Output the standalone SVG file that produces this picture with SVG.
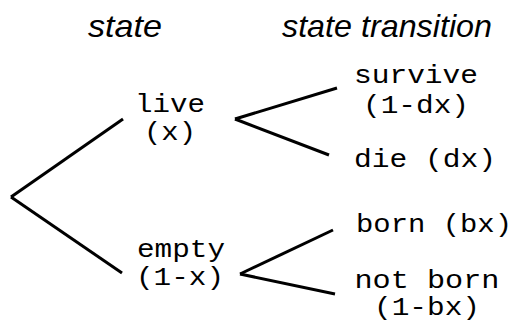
<svg xmlns="http://www.w3.org/2000/svg" width="515" height="323" viewBox="0 0 515 323">
<style>
.hdr{font-family:"Liberation Sans",Arial,sans-serif;font-style:italic;font-size:32px;fill:#000}
.lbl{font-family:"Liberation Mono","Courier New",monospace;font-size:25px;fill:#000}
.m{text-anchor:middle}
.edge{stroke:#000;stroke-width:3;fill:none;stroke-linecap:butt}
</style>
<rect width="515" height="323" fill="#fff"/>
<g id="headers">
<text class="hdr" x="88" y="37" textLength="74" lengthAdjust="spacingAndGlyphs">state</text>
<text class="hdr" x="282" y="37" textLength="210" lengthAdjust="spacingAndGlyphs">state transition</text>
</g>
<g id="connectors">
<line class="edge" x1="11" y1="197" x2="123" y2="119"/>
<line class="edge" x1="11" y1="197" x2="122" y2="273"/>
<line class="edge" x1="235" y1="119" x2="337" y2="88"/>
<line class="edge" x1="235" y1="119" x2="329" y2="155"/>
<line class="edge" x1="240" y1="274" x2="333" y2="230"/>
<line class="edge" x1="240" y1="274" x2="335" y2="294"/>
</g>
<g id="live">
<text class="lbl m" x="170" y="112" textLength="70" lengthAdjust="spacingAndGlyphs">live</text>
<text class="lbl m" x="170" y="140" textLength="52" lengthAdjust="spacingAndGlyphs">(x)</text>
</g>
<g id="empty">
<text class="lbl m" x="181" y="257" textLength="88" lengthAdjust="spacingAndGlyphs">empty</text>
<text class="lbl m" x="180" y="285" textLength="88" lengthAdjust="spacingAndGlyphs">(1-x)</text>
</g>
<g id="survive">
<text class="lbl m" x="416" y="83" textLength="124" lengthAdjust="spacingAndGlyphs">survive</text>
<text class="lbl m" x="416" y="113" textLength="106" lengthAdjust="spacingAndGlyphs">(1-dx)</text>
</g>
<g id="die">
<text class="lbl" x="354" y="167" textLength="142" lengthAdjust="spacingAndGlyphs">die (dx)</text>
</g>
<g id="born">
<text class="lbl" x="356" y="232" textLength="156" lengthAdjust="spacingAndGlyphs">born (bx)</text>
</g>
<g id="notborn">
<text class="lbl m" x="427" y="288" textLength="145" lengthAdjust="spacingAndGlyphs">not born</text>
<text class="lbl m" x="427" y="315" textLength="106" lengthAdjust="spacingAndGlyphs">(1-bx)</text>
</g>
</svg>
